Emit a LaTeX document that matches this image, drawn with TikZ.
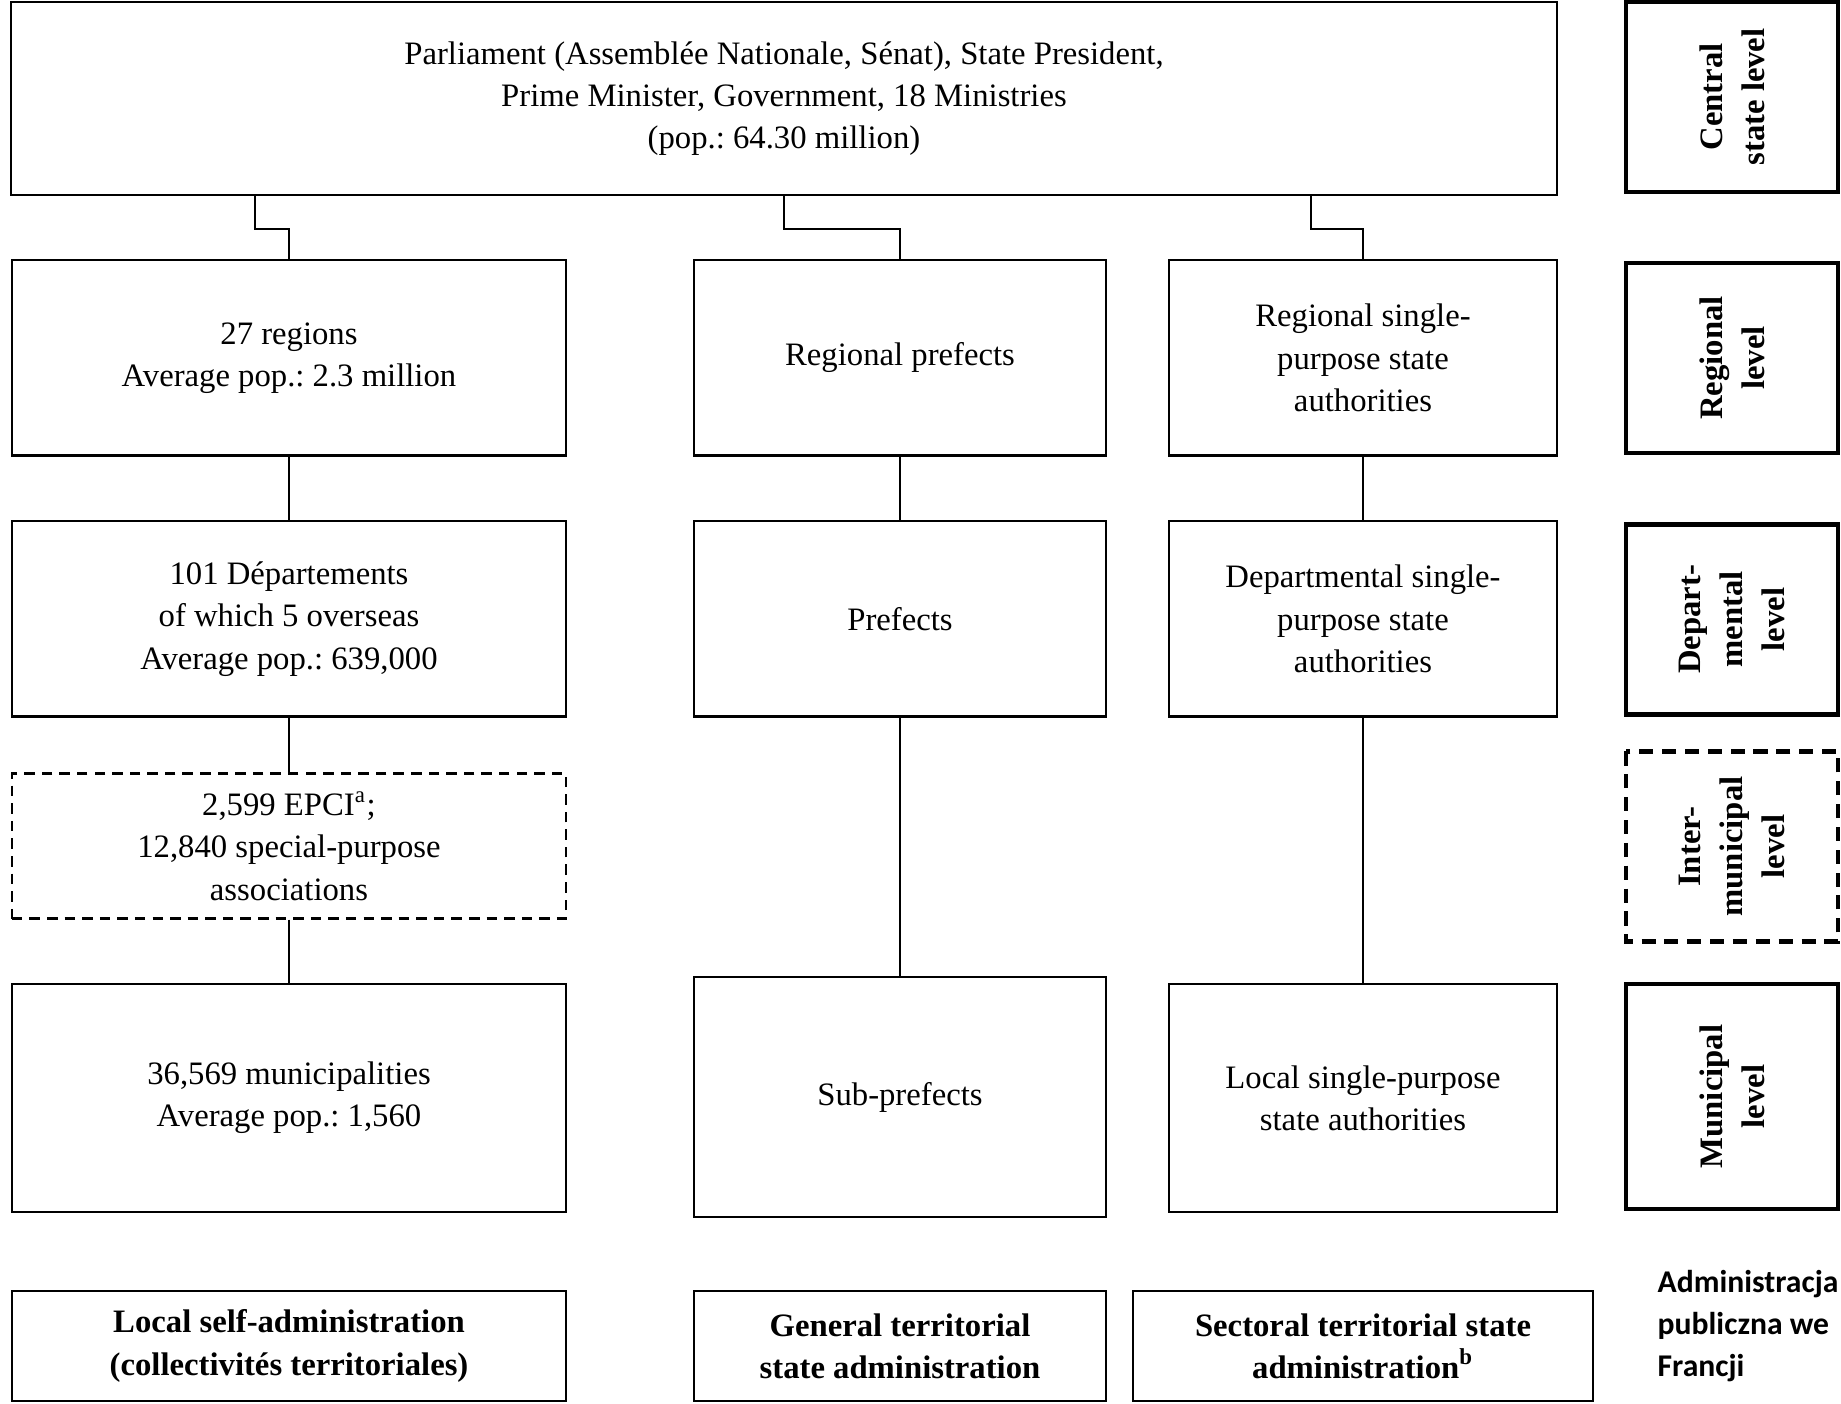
\documentclass[tikz,border=0pt]{standalone}
\usepackage{fontspec}
\setmainfont{Liberation Serif}
\newfontfamily\notefont{Carlito}
\usetikzlibrary{positioning}
\frenchspacing

\begin{document}
\begin{tikzpicture}[x=0.01cm, y=-0.01cm,
  unit/.style={draw, line width=0.6pt, align=center, font=\fontsize{9.3}{12}\selectfont},
  level/.style={draw, line width=1.3pt, align=center, rotate=90, minimum width=1.9cm, minimum height=2.12cm, font=\bfseries\fontsize{9.3}{12}\selectfont},
  side/.style={unit, font=\bfseries\fontsize{9.3}{12}\selectfont, minimum height=1.1cm},
  link/.style={line width=0.6pt}]
\useasboundingbox (0,0) rectangle (1841,1404);

\node (top) [unit, minimum width=15.45cm, minimum height=1.93cm] at (784,98.5) {Parliament (Assemblée Nationale, Sénat), State President,\\ Prime Minister, Government, 18 Ministries\\ (pop.: 64.30 million)};

%Local self-administration:
\node (reg) [unit, minimum width=5.54cm, minimum height=1.95cm] at (289,358) {27 regions\\ Average pop.: 2.3 million};
\node (dep) [unit, minimum width=5.54cm, minimum height=1.95cm] at (289,619) {101 Départements\\ of which 5 overseas\\ Average pop.: 639,000};
\node (epci) [unit, dashed, dash pattern=on 3pt off 2pt, minimum width=5.54cm, minimum height=1.45cm] at (289,846) {2,599 EPCI\textsuperscript{a};\\ 12,840 special-purpose\\ associations};
\node (mun) [unit, minimum width=5.54cm, minimum height=2.28cm] at (289,1098) {36,569 municipalities\\ Average pop.: 1,560};

%General territorial state administration:
\node (rpref) [unit, minimum width=4.12cm, minimum height=1.95cm] at (900,358) {Regional prefects};
\node (pref) [unit, minimum width=4.12cm, minimum height=1.95cm] at (900,619) {Prefects};
\node (spref) [unit, minimum width=4.12cm, minimum height=2.4cm] at (900,1097) {Sub-prefects};

%Sectoral territorial state administration:
\node (rsec) [unit, minimum width=3.88cm, minimum height=1.95cm] at (1363,358) {Regional single-\\ purpose state\\ authorities};
\node (dsec) [unit, minimum width=3.88cm, minimum height=1.95cm] at (1363,619) {Departmental single-\\ purpose state\\ authorities};
\node (lsec) [unit, minimum width=3.88cm, minimum height=2.28cm] at (1363,1098) {Local single-purpose\\ state authorities};

%Levels:
\node (lcen) [level] at (1732,97) {Central\\ state level};
\node (lreg) [level] at (1732,358) {Regional\\ level};
\node (ldep) [level] at (1732,619.5) {Depart-\\ mental\\ level};
\node (lint) [level, dashed, dash pattern=on 4pt off 2.5pt] at (1732,846.5) {Inter-\\ municipal\\ level};
\node (lmun) [level, minimum width=2.25cm] at (1732,1096.5) {Municipal\\ level};

%Bottom:
\node (bself) [side, minimum width=5.54cm] at (289,1346) {Local self-administration\\ (collectivités territoriales)};
\node (bgen) [side, minimum width=4.12cm] at (900,1346) {General territorial\\ state administration};
\node (bsec) [side, minimum width=4.6cm] at (1363,1346) {Sectoral territorial state\\ administration\textsuperscript{b}};
\node (note) [anchor=west, align=left, inner sep=0pt, font=\notefont\bfseries\fontsize{9}{12}\selectfont] at (1657,1326) {Administracja\\ publiczna we\\ Francji};

\draw [link] (top.south -| 255,0) -- ++(0,33) -| (reg.north);
\draw [link] (top.south) -- ++(0,33) -| (rpref.north);
\draw [link] (top.south -| 1311,0) -- ++(0,33) -| (rsec.north);

\draw [link] (reg) -- (dep) (dep) -- (epci) (epci) -- (mun);
\draw [link] (rpref) -- (pref) (pref) -- (spref);
\draw [link] (rsec) -- (dsec) (dsec) -- (lsec);

\end{tikzpicture}
\end{document}
